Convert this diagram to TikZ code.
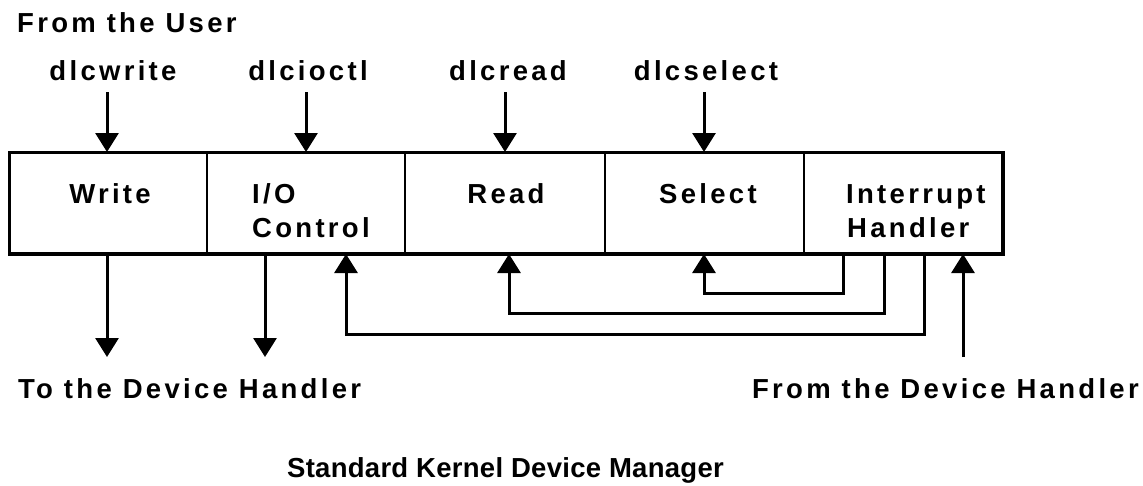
\documentclass[tikz,border=0pt]{standalone}
\usepackage{fontspec}
\setmainfont{Liberation Sans}
\newfontfamily\lblfont{Liberation Sans Bold}[LetterSpace=12]
\newfontfamily\ttlfont{Liberation Sans Bold}[LetterSpace=1]
\usetikzlibrary{arrows.meta}
\begin{document}
\begin{tikzpicture}[x=1pt,y=-1pt,
  txt/.style={inner sep=0pt, font=\lblfont\fontsize{27.5}{30}\selectfont},
  col/.style={draw, line width=2pt, minimum height=100pt, inner sep=0pt},
  arr/.style={line width=3pt, -{Triangle[width=23pt,length=19pt]}},
  wire/.style={line width=3pt}]
\useasboundingbox[fill=white] (0,0) rectangle (1143,485);
% columns
\node[col, minimum width=197pt] (w)   at (108.5,203) {};
\node[col, minimum width=198pt] (io)  at (306,203) {};
\node[col, minimum width=200pt] (rd)  at (505,203) {};
\node[col, minimum width=199pt] (sel) at (704.5,203) {};
\node[col, minimum width=198pt] (ih)  at (903,203) {};
\draw[line width=3pt] (w.north west) rectangle (ih.south east);
% column texts
\node[txt, anchor=base] (tw) at (110,203) {Write};
\node[txt, anchor=base west] (tio1) at (252,203) {I/O};
\node[txt, anchor=base west] (tio2) at (252,237) {Control};
\node[txt, anchor=base] (trd) at (506,203) {Read};
\node[txt, anchor=base] (tsel) at (708,203) {Select};
\node[txt, anchor=base west] (tih1) at (846,203) {Interrupt};
\node[txt, anchor=base west] (tih2) at (847,237) {Handler};
% top labels
\node[txt, anchor=base west] (user) at (17,32) {From the User};
\node[txt, anchor=base] (lw)  at (113,80) {dlcwrite};
\node[txt, anchor=base] (lio) at (308,80) {dlcioctl};
\node[txt, anchor=base] (lrd) at (508,80) {dlcread};
\node[txt, anchor=base] (lsel) at (706,80) {dlcselect};
\coordinate (sw) at (107,92);
\coordinate (sio) at (306,92);
\coordinate (srd) at (505,92);
\coordinate (ssel) at (704,92);
\draw[arr] (sw) -- (w.north -| sw);
\draw[arr] (sio) -- (io.north -| sio);
\draw[arr] (srd) -- (rd.north -| srd);
\draw[arr] (ssel) -- (sel.north -| ssel);
% bottom
\coordinate (dw) at (107,357);
\coordinate (dio) at (265,357);
\draw[arr] (w.south -| dw) -- (dw);
\draw[arr] (io.south -| dio) -- (dio);
\coordinate (r1) at (843,293);
\coordinate (r2) at (884,313);
\coordinate (r3) at (924,334);
\coordinate (x1) at (704,0);
\coordinate (x2) at (509,0);
\coordinate (x3) at (346,0);
\draw[arr] (ih.south -| r1) -- (r1) -- (r1 -| x1) -- (sel.south -| x1);
\draw[arr] (ih.south -| r2) -- (r2) -- (r2 -| x2) -- (rd.south -| x2);
\draw[arr] (ih.south -| r3) -- (r3) -- (r3 -| x3) -- (io.south -| x3);
\coordinate (fd) at (963,357);
\draw[arr] (fd) -- (ih.south -| fd);
\node[txt, anchor=base west] (todh) at (18,398) {To the Device Handler};
\node[txt, anchor=base east] (fromdh) at (1139,398) {From the Device Handler};
\node[txt, anchor=base west, font=\ttlfont\fontsize{27.5}{30}\selectfont] (title) at (287,477) {Standard Kernel Device Manager};
\end{tikzpicture}
\end{document}
